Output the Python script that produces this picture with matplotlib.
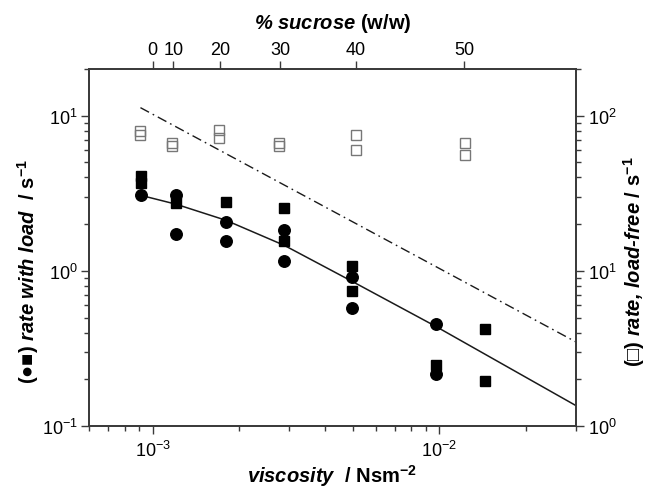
import matplotlib
matplotlib.use("Agg")
import matplotlib.pyplot as plt
from matplotlib.ticker import LogLocator, NullLocator, FixedLocator, FixedFormatter

plt.rcParams['font.family'] = ['Liberation Sans', 'DejaVu Sans']
plt.rcParams['mathtext.fontset'] = 'custom'
plt.rcParams['mathtext.rm'] = 'Liberation Sans:bold'
plt.rcParams['mathtext.bf'] = 'Liberation Sans:bold'
plt.rcParams['mathtext.it'] = 'Liberation Sans:italic:bold'

# ---------------- data ----------------
# filled circles: rate with load (left axis)
visc_circle = [9.08e-4, 1.206e-3, 1.206e-3, 1.80e-3, 1.80e-3, 2.88e-3, 2.88e-3,
               4.97e-3, 4.97e-3, 9.76e-3, 9.76e-3]
rate_circle = [3.07, 3.10, 1.72, 2.06, 1.56, 1.83, 1.15, 0.908, 0.578, 0.457, 0.217]

# filled squares: rate with load (left axis)
visc_square = [9.08e-4, 9.08e-4, 1.206e-3, 1.80e-3, 2.88e-3, 2.88e-3, 4.97e-3,
               4.97e-3, 9.76e-3, 1.44e-2, 1.44e-2]
rate_square = [4.09, 3.68, 2.73, 2.76, 2.54, 1.55, 1.07, 0.740, 0.248, 0.425, 0.195]

# open squares: load-free rate (right axis)
visc_free = [9.06e-4, 9.06e-4, 1.171e-3, 1.171e-3, 1.706e-3, 1.706e-3, 2.77e-3,
             2.77e-3, 5.14e-3, 5.14e-3, 1.229e-2, 1.229e-2]
rate_free = [80.0, 75.3, 66.8, 64.0, 81.4, 71.4, 66.8, 64.0, 75.0, 60.0, 66.8, 56.2]

# solid fit curve (left axis)
visc_fit = [9.08e-4, 1.206e-3, 1.80e-3, 2.88e-3, 4.97e-3, 9.76e-3, 3.0e-2]
rate_fit = [3.07, 2.69, 2.12, 1.46, 0.855, 0.437, 0.1353]

# dash-dot line (left axis)
visc_dd = [9.07e-4, 3.0e-2]
rate_dd = [11.27, 0.348]

# top axis: % sucrose
sucrose_visc = [1.0e-3, 1.181e-3, 1.725e-3, 2.79e-3, 5.11e-3, 1.221e-2]
sucrose_labels = ['0', '10', '20', '30', '40', '50']

# ---------------- figure ----------------
W, H = 648, 489
fig = plt.figure(figsize=(W / 100, H / 100), dpi=100)
ax = fig.add_axes([89 / W, 62 / H, 487 / W, 357 / H])

spine_col = '#3a3a3a'
tick_fs = 13
label_fs = 14.5

ax.set_xscale('log')
ax.set_yscale('log')
ax.set_xlim(6e-4, 3e-2)
ax.set_ylim(0.1, 20)

ax.plot(visc_fit, rate_fit, '-', color='#1a1a1a', lw=1.1, zorder=2)
ax.plot(visc_dd, rate_dd, color='#1a1a1a', lw=1.0, dashes=(7, 3, 1.2, 3), zorder=2)
ax.plot(visc_square, rate_square, 's', color='black', ms=7.5, mec='black', zorder=3)
ax.plot(visc_circle, rate_circle, 'o', color='black', ms=8.3, mec='black', zorder=3)

# right axis
axr = ax.twinx()
axr.set_yscale('log')
axr.set_ylim(1, 200)
axr.plot(visc_free, rate_free, 's', ms=7, mfc='none', mec='#777777', mew=1.0)

# top axis
axt = ax.twiny()
axt.set_xscale('log')
axt.set_xlim(6e-4, 3e-2)
axt.xaxis.set_major_locator(FixedLocator(sucrose_visc))
axt.xaxis.set_major_formatter(FixedFormatter(sucrose_labels))
axt.xaxis.set_minor_locator(NullLocator())

for a in (ax, axr, axt):
    for s in a.spines.values():
        s.set_color(spine_col)
        s.set_linewidth(1.1)

ax.xaxis.set_major_locator(LogLocator(base=10, numticks=10))
ax.xaxis.set_minor_locator(LogLocator(base=10, subs=range(2, 10), numticks=20))
ax.yaxis.set_minor_locator(LogLocator(base=10, subs=range(2, 10), numticks=20))
axr.yaxis.set_minor_locator(LogLocator(base=10, subs=range(2, 10), numticks=20))

ax.tick_params(axis='x', which='major', direction='out', length=6, width=1.0,
               color=spine_col, labelsize=tick_fs, pad=4)
ax.tick_params(axis='x', which='minor', direction='out', length=3.5, width=1.0, color=spine_col)
ax.tick_params(axis='y', which='major', direction='out', length=6, width=1.0,
               color=spine_col, labelsize=tick_fs, pad=2)
ax.tick_params(axis='y', which='minor', direction='out', length=3.5, width=1.0, color=spine_col)
axr.tick_params(axis='y', which='major', direction='out', length=6, width=1.0,
                color=spine_col, labelsize=tick_fs, pad=3)
axr.tick_params(axis='y', which='minor', direction='out', length=3.5, width=1.0, color=spine_col)
axt.tick_params(axis='x', which='major', direction='out', length=6, width=1.0,
                color=spine_col, labelsize=tick_fs, pad=2)

# labels
ax.set_xlabel(r"viscosity  $\mathbf{/\ Nsm^{-2}}$", fontsize=label_fs,
              fontweight='bold', fontstyle='italic', va='center')
ax.xaxis.set_label_coords(0.5, -0.137)

axt.set_xlabel(r"% sucrose $\mathbf{(w/w)}$", fontsize=label_fs,
               fontweight='bold', fontstyle='italic', va='center')
axt.xaxis.set_label_coords(0.5, 1.13)

ax.set_ylabel(r"$\mathbf{(●■)}$ rate with load  $\mathbf{/\ s^{-1}}$", fontsize=label_fs,
              fontweight='bold', fontstyle='italic', va='center')
ax.yaxis.set_label_coords(-0.125, 0.434)

axr.set_ylabel(r"$\mathbf{(□)}$ rate, load-free $\mathbf{/\ s^{-1}}$", fontsize=label_fs,
               fontweight='bold', fontstyle='italic', va='center', rotation=90)
axr.yaxis.set_label_coords(1.12, 0.462)

fig.savefig("out.png", dpi=100)
